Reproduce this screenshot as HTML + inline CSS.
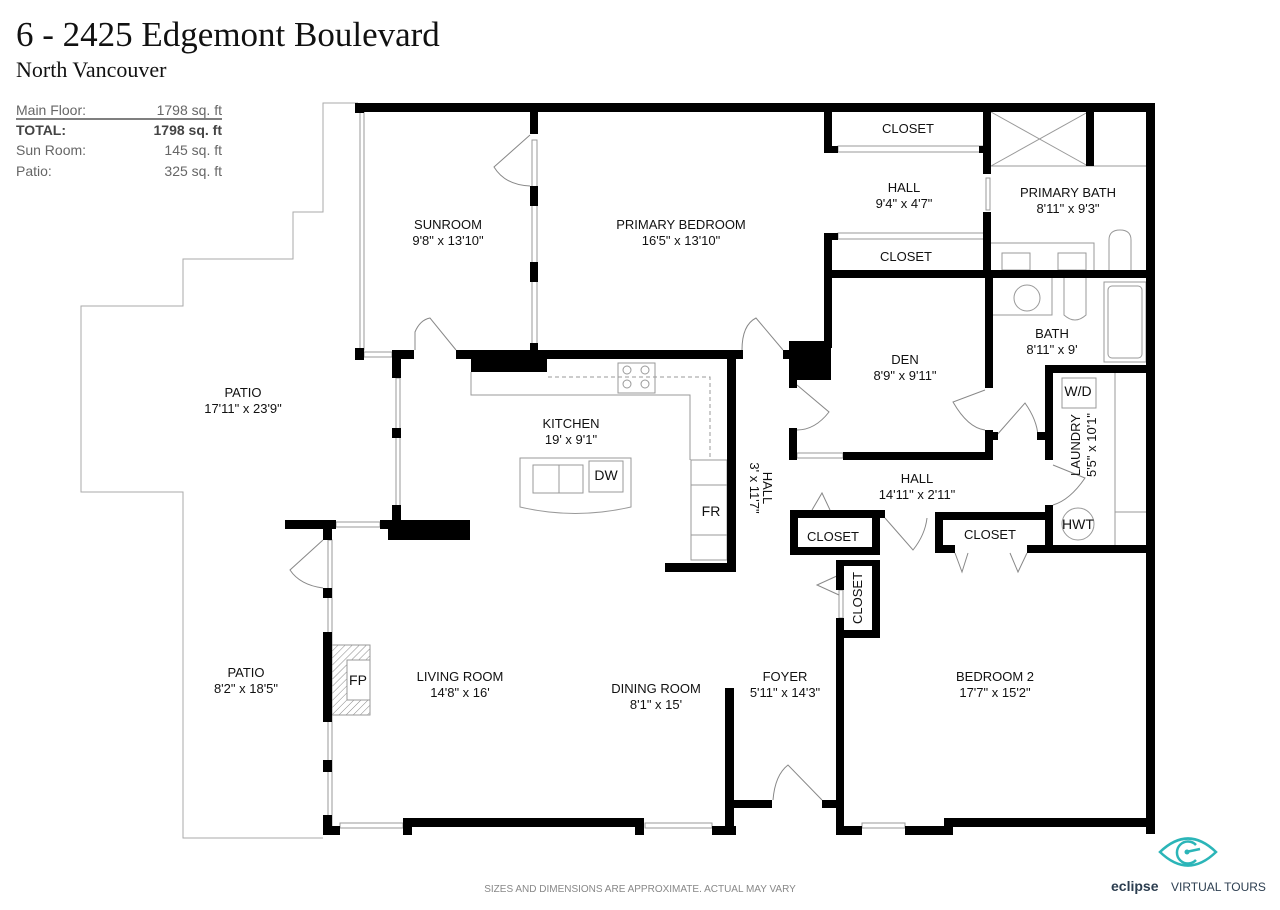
<!DOCTYPE html>
<html><head><meta charset="utf-8"><style>
html,body{margin:0;padding:0;background:#fff;}
body{width:1280px;height:905px;overflow:hidden;position:relative;}
svg text{font-family:"Liberation Sans",Arial,sans-serif;}
</style></head><body>
<svg width="1280" height="905" viewBox="0 0 1280 905" xmlns="http://www.w3.org/2000/svg">
<!-- header -->
<text x="16" y="46" font-family="Liberation Serif" font-size="35" fill="#111" style="font-family:'Liberation Serif',serif">6 - 2425 Edgemont Boulevard</text>
<text x="16" y="77" font-size="22" fill="#111" style="font-family:'Liberation Serif',serif">North Vancouver</text>
<g font-size="14" fill="#666">
<text x="16" y="115">Main Floor:</text><text x="222" y="115" text-anchor="end">1798 sq. ft</text>
<text x="16" y="135" font-weight="bold" fill="#444">TOTAL:</text><text x="222" y="135" text-anchor="end" font-weight="bold" fill="#444">1798 sq. ft</text>
<text x="16" y="155">Sun Room:</text><text x="222" y="155" text-anchor="end">145 sq. ft</text>
<text x="16" y="176">Patio:</text><text x="222" y="176" text-anchor="end">325 sq. ft</text>
</g>
<line x1="16" y1="119" x2="222" y2="119" stroke="#555" stroke-width="1.5"/>

<!-- patio outline -->
<polyline points="358,103 323,103 323,212 293,212 293,259 183,259 183,306 81,306 81,492 183,492 183,838 323,838" fill="none" stroke="#aaa" stroke-width="1"/>

<!-- thin fixture lines -->
<g fill="none" stroke="#999" stroke-width="1">
<rect x="360" y="112" width="4" height="238"/>
<rect x="396" y="378" width="4" height="140"/>
<rect x="328" y="540" width="4" height="290"/>
<rect x="532" y="140" width="5" height="210"/>
<polyline points="471,372 471,395 690,395 690,460"/>
<polyline points="548,377 710,377 710,460" stroke-dasharray="4,3"/>
<rect x="618" y="363" width="37" height="30"/>
<circle cx="627" cy="370" r="4"/><circle cx="645" cy="370" r="4"/><circle cx="627" cy="384" r="4"/><circle cx="645" cy="384" r="4"/>
<rect x="691" y="460" width="36" height="100"/><line x1="691" y1="485" x2="727" y2="485"/><line x1="691" y1="535" x2="727" y2="535"/>
<path d="M520,458 L631,458 L631,507 Q575,520 520,507 Z"/>
<rect x="533" y="465" width="50" height="28"/><line x1="559" y1="465" x2="559" y2="493"/>
<rect x="589" y="461" width="34" height="31"/>
<rect x="838" y="146" width="146" height="6"/>
<rect x="838" y="233" width="146" height="6"/>
<line x1="991" y1="112" x2="1088" y2="166"/><line x1="1088" y1="112" x2="991" y2="166"/>
<line x1="991" y1="166" x2="1147" y2="166"/>
<rect x="986" y="178" width="4" height="32"/>
<polyline points="991,243 1094,243 1094,270"/>
<rect x="1002" y="253" width="28" height="17"/><rect x="1058" y="253" width="28" height="17"/>
<path d="M1109,270 L1109,240 Q1109,230 1120,230 Q1131,230 1131,240 L1131,270"/>
<polyline points="993,315 1052,315 1052,278"/>
<circle cx="1027" cy="298" r="13"/>
<path d="M1064,278 L1064,315 Q1075,325 1086,315 L1086,278"/>
<rect x="1104" y="282" width="42" height="80"/><rect x="1108" y="286" width="34" height="72" rx="4"/>
<rect x="1062" y="378" width="34" height="30"/>
<polyline points="1115,373 1115,545"/><line x1="1115" y1="512" x2="1147" y2="512"/>
<circle cx="1078" cy="524" r="16"/>
<rect x="340" y="823" width="63" height="5"/><rect x="645" y="823" width="67" height="5"/><rect x="862" y="823" width="43" height="5"/>
<rect x="336" y="522" width="44" height="5"/><rect x="364" y="352" width="28" height="5"/>
<rect x="797" y="453" width="46" height="5"/>
<rect x="839" y="590" width="4" height="28"/>
</g>
<!-- fireplace -->
<defs><pattern id="h" width="5" height="5" patternUnits="userSpaceOnUse" patternTransform="rotate(45)"><line x1="0" y1="0" x2="0" y2="5" stroke="#888" stroke-width="1"/></pattern></defs>
<rect x="332" y="645" width="38" height="70" fill="url(#h)" stroke="#999"/>
<rect x="347" y="660" width="23" height="40" fill="#fff" stroke="#999"/>

<!-- door swings -->
<g fill="none" stroke="#888" stroke-width="1">
<path d="M530,135 L494,167 Q505,185 530,186"/>
<path d="M415,350 L415,332 Q420,320 430,318 L456,350"/>
<path d="M742,350 Q742,325 756,318 L783,350"/>
<path d="M797,385 L829,412 Q815,430 797,430"/>
<path d="M985,390 L953,402 Q968,428 985,430"/>
<path d="M996,436 L1025,403 Q1037,420 1038,436"/>
<path d="M1053,465 L1085,478 Q1070,500 1053,505"/>
<path d="M812,510 L822,493 L830,510"/>
<path d="M885,518 L913,550 Q925,535 927,518"/>
<path d="M955,553 L962,572 L968,553 M1010,553 L1018,572 L1027,553"/>
<path d="M839,575 L817,585 L839,595"/>
<path d="M323,540 L290,570 Q300,585 323,588"/>
<path d="M773,800 Q775,775 788,765 L822,800"/>
</g>

<!-- walls -->
<g fill="#000">
<rect x="358" y="103" width="797" height="9"/>
<rect x="1146" y="103" width="9" height="731"/>
<rect x="355" y="103" width="9" height="10"/>
<rect x="355" y="348" width="9" height="12"/>
<rect x="530" y="112" width="8" height="22"/><rect x="530" y="186" width="8" height="20"/><rect x="530" y="262" width="8" height="20"/><rect x="530" y="343" width="8" height="10"/>
<rect x="392" y="350" width="22" height="9"/><rect x="456" y="350" width="287" height="9"/>
<rect x="392" y="350" width="9" height="28"/><rect x="392" y="428" width="9" height="10"/><rect x="392" y="505" width="9" height="22"/>
<rect x="471" y="359" width="76" height="13"/>
<rect x="783" y="350" width="8" height="9"/>
<rect x="789" y="341" width="42" height="39"/>
<rect x="824" y="112" width="8" height="41"/><rect x="832" y="146" width="6" height="7"/><rect x="979" y="146" width="6" height="7"/>
<rect x="824" y="233" width="8" height="115"/><rect x="832" y="233" width="6" height="7"/>
<rect x="824" y="270" width="331" height="8"/>
<rect x="983" y="112" width="8" height="62"/><rect x="983" y="212" width="8" height="66"/>
<rect x="1086" y="112" width="8" height="54"/>
<rect x="985" y="278" width="8" height="110"/><rect x="985" y="430" width="8" height="30"/>
<rect x="789" y="380" width="8" height="8"/><rect x="789" y="428" width="8" height="32"/>
<rect x="843" y="452" width="150" height="8"/>
<rect x="993" y="432" width="5" height="8"/><rect x="1037" y="432" width="16" height="8"/>
<rect x="1045" y="365" width="110" height="8"/>
<rect x="1045" y="365" width="8" height="95"/><rect x="1045" y="505" width="8" height="48"/>
<rect x="1045" y="545" width="110" height="8"/>
<rect x="935" y="512" width="118" height="8"/>
<rect x="935" y="512" width="8" height="41"/><rect x="935" y="545" width="20" height="8"/><rect x="1027" y="545" width="25" height="8"/>
<rect x="790" y="510" width="90" height="8"/><rect x="790" y="510" width="8" height="45"/><rect x="872" y="510" width="8" height="45"/><rect x="790" y="547" width="90" height="8"/><rect x="880" y="510" width="5" height="8"/>
<rect x="836" y="560" width="8" height="30"/><rect x="836" y="618" width="8" height="217"/>
<rect x="843" y="560" width="35" height="6"/><rect x="872" y="560" width="8" height="78"/><rect x="843" y="630" width="37" height="8"/>
<rect x="727" y="358" width="9" height="214"/><rect x="665" y="563" width="71" height="9"/>
<rect x="285" y="520" width="51" height="9"/><rect x="323" y="520" width="9" height="20"/>
<rect x="380" y="520" width="22" height="9"/><rect x="388" y="520" width="82" height="20"/>
<rect x="323" y="588" width="9" height="10"/><rect x="323" y="632" width="9" height="90"/><rect x="323" y="760" width="9" height="12"/><rect x="323" y="815" width="9" height="20"/>
<rect x="323" y="826" width="17" height="9"/><rect x="403" y="818" width="9" height="17"/><rect x="403" y="818" width="240" height="9"/><rect x="635" y="818" width="9" height="17"/><rect x="712" y="826" width="24" height="9"/>
<rect x="725" y="688" width="9" height="147"/>
<rect x="734" y="800" width="38" height="8"/><rect x="822" y="800" width="15" height="8"/>
<rect x="836" y="826" width="26" height="9"/><rect x="905" y="826" width="43" height="9"/><rect x="944" y="818" width="9" height="17"/><rect x="944" y="818" width="211" height="9"/>
</g>

<!-- labels -->
<g font-size="13" fill="#111" text-anchor="middle">
<text x="448" y="229">SUNROOM</text><text x="448" y="245">9'8" x 13'10"</text>
<text x="681" y="229">PRIMARY BEDROOM</text><text x="681" y="245">16'5" x 13'10"</text>
<text x="908" y="133">CLOSET</text>
<text x="904" y="192">HALL</text><text x="904" y="208">9'4" x 4'7"</text>
<text x="906" y="261">CLOSET</text>
<text x="1068" y="197">PRIMARY BATH</text><text x="1068" y="213">8'11" x 9'3"</text>
<text x="905" y="364">DEN</text><text x="905" y="380">8'9" x 9'11"</text>
<text x="1052" y="338">BATH</text><text x="1052" y="354">8'11" x 9'</text>
<text x="243" y="397">PATIO</text><text x="243" y="413">17'11" x 23'9"</text>
<text x="571" y="428">KITCHEN</text><text x="571" y="444">19' x 9'1"</text>
<text x="606" y="480" font-size="14">DW</text>
<text x="711" y="516" font-size="14">FR</text>
<text x="917" y="483">HALL</text><text x="917" y="499">14'11" x 2'11"</text>
<text x="833" y="541">CLOSET</text>
<text x="990" y="539">CLOSET</text>
<text x="1078" y="396" font-size="14">W/D</text>
<text x="1078" y="529" font-size="14">HWT</text>
<text x="358" y="685" font-size="14">FP</text>
<text x="246" y="677">PATIO</text><text x="246" y="693">8'2" x 18'5"</text>
<text x="460" y="681">LIVING ROOM</text><text x="460" y="697">14'8" x 16'</text>
<text x="656" y="693">DINING ROOM</text><text x="656" y="709">8'1" x 15'</text>
<text x="785" y="681">FOYER</text><text x="785" y="697">5'11" x 14'3"</text>
<text x="995" y="681">BEDROOM 2</text><text x="995" y="697">17'7" x 15'2"</text>
<text transform="translate(763,488) rotate(90)">HALL</text>
<text transform="translate(750,488) rotate(90)">3' x 11'7"</text>
<text transform="translate(1080,445) rotate(-90)">LAUNDRY</text>
<text transform="translate(1096,445) rotate(-90)">5'5" x 10'1"</text>
<text transform="translate(862,598) rotate(-90)">CLOSET</text>
</g>

<!-- footer -->
<text x="640" y="892" font-size="10" fill="#888" text-anchor="middle">SIZES AND DIMENSIONS ARE APPROXIMATE. ACTUAL MAY VARY</text>
<g fill="none" stroke="#2bb5b8" stroke-width="2.5">
<path d="M1160,852 Q1188,825 1216,852 Q1188,879 1160,852 Z"/>
<path d="M1196,845 A11,11 0 1 0 1196,860"/>
<line x1="1186" y1="852" x2="1200" y2="849"/>
</g>
<circle cx="1187" cy="852" r="2.5" fill="#2bb5b8"/>
<text x="1111" y="891" font-size="14" font-weight="bold" fill="#2c3e50">eclipse</text>
<text x="1171" y="891" font-size="12" fill="#2c3e50">VIRTUAL TOURS</text>
</svg>
</body></html>
